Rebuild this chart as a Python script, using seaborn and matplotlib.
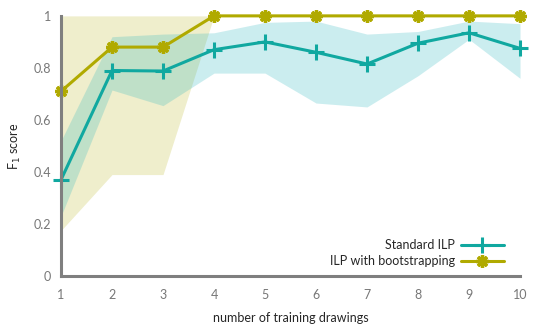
import pandas as pd
import matplotlib
matplotlib.use("Agg")
import matplotlib.pyplot as plt
import seaborn as sns

# Data
drawings = [1, 2, 3, 4, 5, 6, 7, 8, 9, 10]
std_f1 = [0.37, 0.79, 0.788, 0.87, 0.90, 0.86, 0.815, 0.895, 0.935, 0.875]
std_low = [0.23, 0.715, 0.655, 0.78, 0.78, 0.665, 0.65, 0.77, 0.91, 0.76]
std_high = [0.52, 0.92, 0.93, 0.935, 0.975, 0.98, 0.93, 0.94, 0.98, 0.97]
boot_f1 = [0.71, 0.88, 0.88, 1.0, 1.0, 1.0, 1.0, 1.0, 1.0, 1.0]
boot_low = [0.175, 0.39, 0.39, 1.0, 1.0, 1.0, 1.0, 1.0, 1.0, 1.0]
boot_high = [1.0, 1.0, 1.0, 1.0, 1.0, 1.0, 1.0, 1.0, 1.0, 1.0]
series = ["Standard ILP", "ILP with bootstrapping"]

teal = "#10a8a0"
olive = "#b0aa00"
gray = "#7f7f7f"

std_df = pd.DataFrame({"drawings": drawings, "f1": std_f1})
boot_df = pd.DataFrame({"drawings": drawings, "f1": boot_f1})

sns.set_style("white")
plt.rcParams["font.family"] = ["Lato", "DejaVu Sans"]

fig = plt.figure(figsize=(5.4, 3.24), dpi=100)
ax = fig.add_axes([0.113, 0.148, 0.85, 0.803])

ax.fill_between(drawings, boot_low, boot_high, color=olive, alpha=0.2, lw=0)
ax.fill_between(drawings, std_low, std_high, color="#32b8c0", alpha=0.25, lw=0)

sns.lineplot(data=std_df, x="drawings", y="f1", color=teal, marker="+",
             markeredgecolor=teal, markersize=11, markeredgewidth=2.2,
             lw=2.2, ax=ax, label=series[0])
sns.lineplot(data=boot_df, x="drawings", y="f1", color=olive, marker=(8, 2, 0),
             markeredgecolor=olive, markersize=9, markeredgewidth=2.4,
             lw=2.2, ax=ax, label=series[1])
for line in ax.lines:
    line.set_clip_on(False)

ax.legend(loc="lower right", frameon=False, markerfirst=False,
          fontsize=9, handlelength=3.4, labelspacing=0.3, borderaxespad=0.0,
          bbox_to_anchor=(0.975, 0.015), handletextpad=0.5)

ax.set_xlim(1, 10)
ax.set_ylim(0, 1)
ax.set_xticks(drawings)
ax.set_yticks([0, 0.2, 0.4, 0.6, 0.8, 1.0])
ax.set_yticklabels(["0", "0.2", "0.4", "0.6", "0.8", "1"])
ax.set_xlabel("number of training drawings", fontsize=9, labelpad=8)
ax.set_ylabel("F$_1$ score", fontsize=9, labelpad=8)

for s in ["top", "right"]:
    ax.spines[s].set_visible(False)
for s in ["left", "bottom"]:
    ax.spines[s].set_color(gray)
    ax.spines[s].set_linewidth(2.2)
ax.tick_params(direction="in", length=4, width=2, color="#7a7560", labelcolor="#777777",
               labelsize=9, pad=7)
ax.tick_params(axis="x", pad=9)

fig.savefig("out.png", dpi=100)
